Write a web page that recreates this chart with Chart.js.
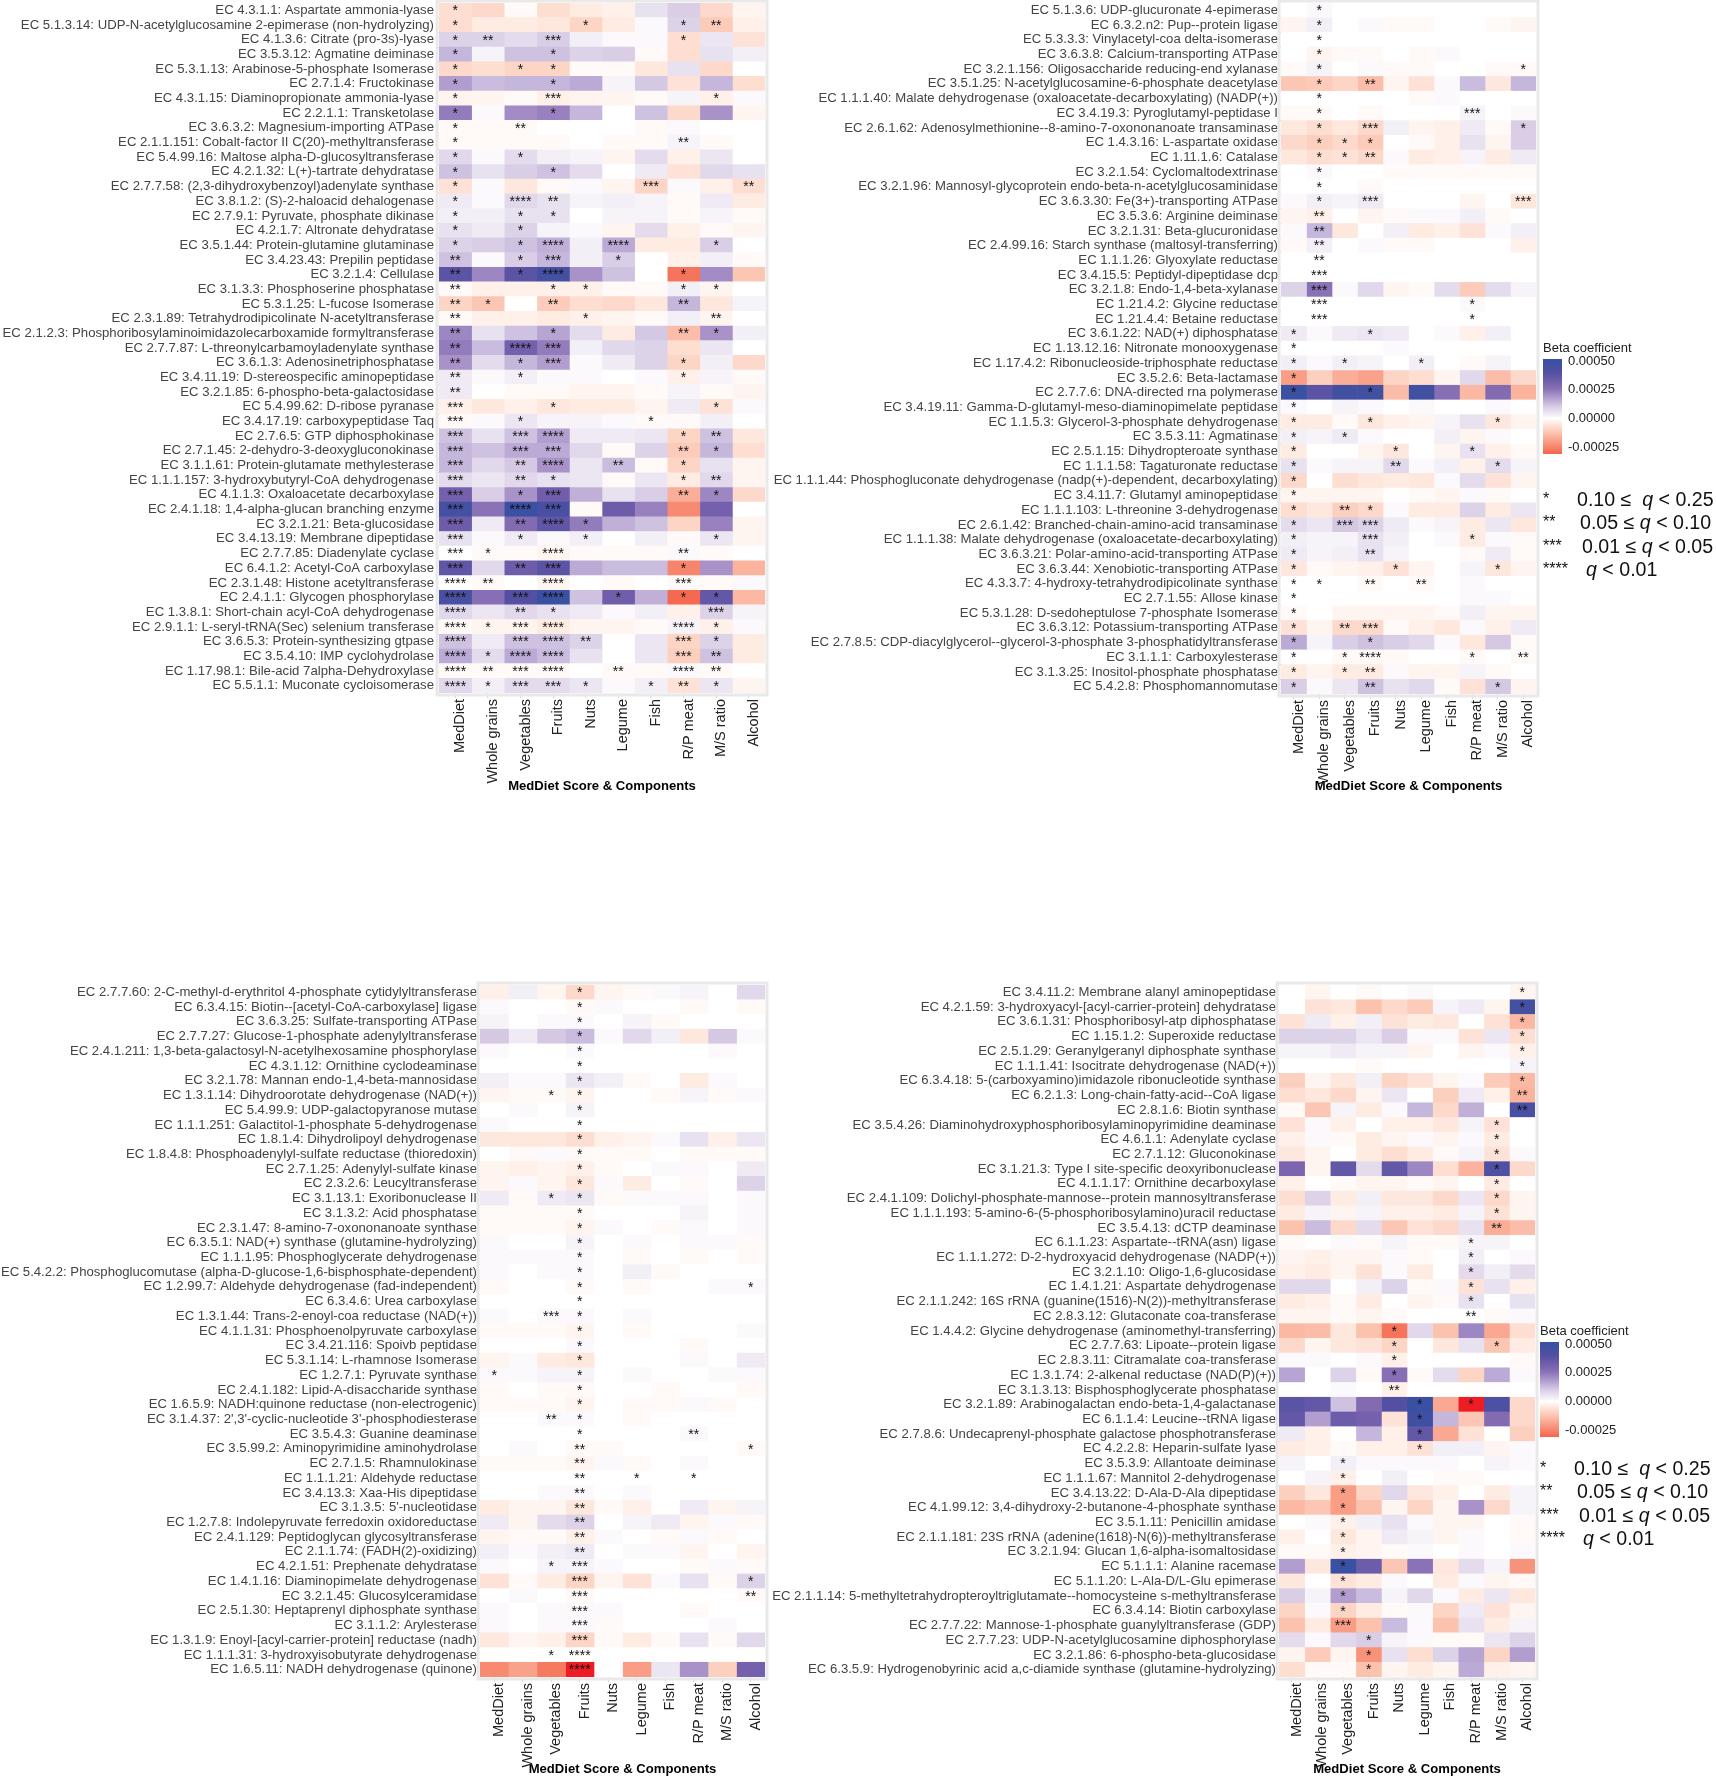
<!DOCTYPE html>
<html>
<head>
<meta charset="utf-8">
<title>MedDiet heatmaps</title>
<script src="https://cdn.jsdelivr.net/npm/chart.js@4"></script>
<style>
  html, body { margin: 0; padding: 0; background: #fff; }
  body { position: relative; width: 1716px; height: 1777px; overflow: hidden; font-family: "Liberation Sans", Arial, sans-serif; }
  canvas { position: absolute; }
  .legend-title { position: absolute; font-size: 13px; color: #222; white-space: nowrap; }
  .q-star { position: absolute; font-size: 16px; color: #111; white-space: nowrap; }
  .q-text { position: absolute; font-size: 19.6px; color: #111; white-space: nowrap; }
</style>
</head>
<body>
<script>
// x axis categories, same for all four panels
const components = ['MedDiet', 'Whole grains', 'Vegetables', 'Fruits', 'Nuts', 'Legume', 'Fish', 'R/P meat', 'M/S ratio', 'Alcohol'];

// Panel A (top left). Beta values are in units of 0.00001, stars are the q level
const labelsA = [
  'EC 4.3.1.1: Aspartate ammonia-lyase',
  'EC 5.1.3.14: UDP-N-acetylglucosamine 2-epimerase (non-hydrolyzing)',
  'EC 4.1.3.6: Citrate (pro-3s)-lyase',
  'EC 3.5.3.12: Agmatine deiminase',
  'EC 5.3.1.13: Arabinose-5-phosphate Isomerase',
  'EC 2.7.1.4: Fructokinase',
  'EC 4.3.1.15: Diaminopropionate ammonia-lyase',
  'EC 2.2.1.1: Transketolase',
  'EC 3.6.3.2: Magnesium-importing ATPase',
  'EC 2.1.1.151: Cobalt-factor II C(20)-methyltransferase',
  'EC 5.4.99.16: Maltose alpha-D-glucosyltransferase',
  'EC 4.2.1.32: L(+)-tartrate dehydratase',
  'EC 2.7.7.58: (2,3-dihydroxybenzoyl)adenylate synthase',
  'EC 3.8.1.2: (S)-2-haloacid dehalogenase',
  'EC 2.7.9.1: Pyruvate, phosphate dikinase',
  'EC 4.2.1.7: Altronate dehydratase',
  'EC 3.5.1.44: Protein-glutamine glutaminase',
  'EC 3.4.23.43: Prepilin peptidase',
  'EC 3.2.1.4: Cellulase',
  'EC 3.1.3.3: Phosphoserine phosphatase',
  'EC 5.3.1.25: L-fucose Isomerase',
  'EC 2.3.1.89: Tetrahydrodipicolinate N-acetyltransferase',
  'EC 2.1.2.3: Phosphoribosylaminoimidazolecarboxamide formyltransferase',
  'EC 2.7.7.87: L-threonylcarbamoyladenylate synthase',
  'EC 3.6.1.3: Adenosinetriphosphatase',
  'EC 3.4.11.19: D-stereospecific aminopeptidase',
  'EC 3.2.1.85: 6-phospho-beta-galactosidase',
  'EC 5.4.99.62: D-ribose pyranase',
  'EC 3.4.17.19: carboxypeptidase Taq',
  'EC 2.7.6.5: GTP diphosphokinase',
  'EC 2.7.1.45: 2-dehydro-3-deoxygluconokinase',
  'EC 3.1.1.61: Protein-glutamate methylesterase',
  'EC 1.1.1.157: 3-hydroxybutyryl-CoA dehydrogenase',
  'EC 4.1.1.3: Oxaloacetate decarboxylase',
  'EC 2.4.1.18: 1,4-alpha-glucan branching enzyme',
  'EC 3.2.1.21: Beta-glucosidase',
  'EC 3.4.13.19: Membrane dipeptidase',
  'EC 2.7.7.85: Diadenylate cyclase',
  'EC 6.4.1.2: Acetyl-CoA carboxylase',
  'EC 2.3.1.48: Histone acetyltransferase',
  'EC 2.4.1.1: Glycogen phosphorylase',
  'EC 1.3.8.1: Short-chain acyl-CoA dehydrogenase',
  'EC 2.9.1.1: L-seryl-tRNA(Sec) selenium transferase',
  'EC 3.6.5.3: Protein-synthesizing gtpase',
  'EC 3.5.4.10: IMP cyclohydrolase',
  'EC 1.17.98.1: Bile-acid 7alpha-Dehydroxylase',
  'EC 5.5.1.1: Muconate cycloisomerase'
];
const betaA = [
  [-7,-8,-1,-7,-4,-3,6,10,-8,-2],
  [-7,-4,-4,-5,-9,-4,1,9,-11,-3],
  [9,9,7,10,3,1,1,-7,5,-6],
  [14,2,12,12,9,10,-1,-7,6,3],
  [-8,-7,-9,-9,-1,-1,-5,6,-8,0],
  [18,13,14,14,16,2,11,-6,14,-7],
  [-2,-2,-1,-3,-2,-2,-1,2,-3,1],
  [24,1,21,23,14,0,12,-8,20,-2],
  [-1,-1,-1,0,0,0,-1,1,0,0],
  [-1,-1,-1,-1,0,-1,-1,2,-1,0],
  [8,1,7,3,2,-2,7,-3,5,0],
  [12,6,10,12,7,0,4,-6,8,6],
  [-6,1,-5,-1,1,-2,-9,1,-3,-7],
  [4,1,8,6,2,3,2,-1,4,-4],
  [3,3,6,6,0,2,2,-1,2,-1],
  [6,4,9,2,1,-2,7,-3,-1,-2],
  [9,10,12,15,3,16,-4,-4,10,0],
  [12,1,10,14,3,10,0,-3,3,-1],
  [38,22,38,46,20,12,0,-28,21,-12],
  [-1,-3,-3,-3,-3,-1,-1,3,-2,0],
  [-9,-12,0,-11,-7,-8,-5,14,-5,2],
  [-1,-3,-3,-4,-3,-2,-1,3,-2,0],
  [22,6,12,17,7,-4,11,-14,20,3],
  [24,13,32,24,3,8,9,-7,5,0],
  [20,7,14,18,1,4,9,-9,3,-8],
  [4,1,3,1,1,0,1,-3,2,-1],
  [4,0,-1,-1,-2,-2,-1,2,-1,-2],
  [-3,-5,-3,-5,-4,-4,-2,4,-6,1],
  [-1,1,5,2,2,1,-1,-1,3,0],
  [12,6,12,18,4,4,5,-9,12,-5],
  [14,12,16,16,8,-1,9,-11,14,-7],
  [14,8,11,20,5,13,-1,-9,6,-2],
  [7,5,8,6,5,-1,5,-4,8,-2],
  [32,10,20,33,15,6,10,-17,22,-8],
  [46,26,52,44,-1,34,23,-24,32,0],
  [34,4,28,37,24,15,12,-9,23,-2],
  [6,1,4,1,3,0,3,-1,5,-2],
  [0,-1,-1,-2,-1,-1,-1,1,-1,0],
  [37,8,34,38,16,13,13,-25,20,-16],
  [0,-1,0,-2,0,-1,0,-1,-1,1],
  [44,27,40,50,12,33,15,-30,36,-15],
  [8,5,8,6,4,1,3,-3,9,2],
  [-1,-2,-2,-4,-2,-2,-1,2,-3,1],
  [12,4,12,12,9,0,5,-9,9,-4],
  [16,7,16,13,6,0,5,-10,12,-4],
  [-1,-1,-1,-1,0,-1,-1,1,-1,0],
  [8,3,7,7,5,1,3,-6,5,-2]
];
const starsA = [
  [1,0,0,0,0,0,0,0,0,0],
  [1,0,0,0,1,0,0,1,2,0],
  [1,2,0,3,0,0,0,1,0,0],
  [1,0,0,1,0,0,0,0,0,0],
  [1,0,1,1,0,0,0,0,0,0],
  [1,0,0,1,0,0,0,0,0,0],
  [1,0,0,3,0,0,0,0,1,0],
  [1,0,0,1,0,0,0,0,0,0],
  [1,0,2,0,0,0,0,0,0,0],
  [1,0,0,0,0,0,0,2,0,0],
  [1,0,1,0,0,0,0,0,0,0],
  [1,0,0,1,0,0,0,0,0,0],
  [1,0,0,0,0,0,3,0,0,2],
  [1,0,4,2,0,0,0,0,0,0],
  [1,0,1,1,0,0,0,0,0,0],
  [1,0,1,0,0,0,0,0,0,0],
  [1,0,1,4,0,4,0,0,1,0],
  [2,0,1,3,0,1,0,0,0,0],
  [2,0,1,4,0,0,0,1,0,0],
  [2,0,0,1,1,0,0,1,1,0],
  [2,1,0,2,0,0,0,2,0,0],
  [2,0,0,0,1,0,0,0,2,0],
  [2,0,0,1,0,0,0,2,1,0],
  [2,0,4,3,0,0,0,0,0,0],
  [2,0,1,3,0,0,0,1,0,0],
  [2,0,1,0,0,0,0,1,0,0],
  [2,0,0,0,0,0,0,0,0,0],
  [3,0,0,1,0,0,0,0,1,0],
  [3,0,1,0,0,0,1,0,0,0],
  [3,0,3,4,0,0,0,1,2,0],
  [3,0,3,3,0,0,0,2,1,0],
  [3,0,2,4,0,2,0,1,0,0],
  [3,0,2,1,0,0,0,1,2,0],
  [3,0,1,3,0,0,0,2,1,0],
  [3,0,4,3,0,0,0,0,0,0],
  [3,0,2,4,1,0,0,0,0,0],
  [3,0,1,0,1,0,0,0,1,0],
  [3,1,0,4,0,0,0,2,0,0],
  [3,0,2,3,0,0,0,1,0,0],
  [4,2,0,4,0,0,0,3,0,0],
  [4,0,3,4,0,1,0,1,1,0],
  [4,0,2,1,0,0,0,0,3,0],
  [4,1,3,4,0,0,0,4,1,0],
  [4,0,3,4,2,0,0,3,1,0],
  [4,1,4,4,0,0,0,3,2,0],
  [4,2,3,4,0,2,0,4,2,0],
  [4,1,3,3,1,0,1,2,1,0]
];

// Panel B (top right)
const labelsB = [
  'EC 5.1.3.6: UDP-glucuronate 4-epimerase',
  'EC 6.3.2.n2: Pup--protein ligase',
  'EC 5.3.3.3: Vinylacetyl-coa delta-isomerase',
  'EC 3.6.3.8: Calcium-transporting ATPase',
  'EC 3.2.1.156: Oligosaccharide reducing-end xylanase',
  'EC 3.5.1.25: N-acetylglucosamine-6-phosphate deacetylase',
  'EC 1.1.1.40: Malate dehydrogenase (oxaloacetate-decarboxylating) (NADP(+))',
  'EC 3.4.19.3: Pyroglutamyl-peptidase I',
  'EC 2.6.1.62: Adenosylmethionine--8-amino-7-oxononanoate transaminase',
  'EC 1.4.3.16: L-aspartate oxidase',
  'EC 1.11.1.6: Catalase',
  'EC 3.2.1.54: Cyclomaltodextrinase',
  'EC 3.2.1.96: Mannosyl-glycoprotein endo-beta-n-acetylglucosaminidase',
  'EC 3.6.3.30: Fe(3+)-transporting ATPase',
  'EC 3.5.3.6: Arginine deiminase',
  'EC 3.2.1.31: Beta-glucuronidase',
  'EC 2.4.99.16: Starch synthase (maltosyl-transferring)',
  'EC 1.1.1.26: Glyoxylate reductase',
  'EC 3.4.15.5: Peptidyl-dipeptidase dcp',
  'EC 3.2.1.8: Endo-1,4-beta-xylanase',
  'EC 1.21.4.2: Glycine reductase',
  'EC 1.21.4.4: Betaine reductase',
  'EC 3.6.1.22: NAD(+) diphosphatase',
  'EC 1.13.12.16: Nitronate monooxygenase',
  'EC 1.17.4.2: Ribonucleoside-triphosphate reductase',
  'EC 3.5.2.6: Beta-lactamase',
  'EC 2.7.7.6: DNA-directed rna polymerase',
  'EC 3.4.19.11: Gamma-D-glutamyl-meso-diaminopimelate peptidase',
  'EC 1.1.5.3: Glycerol-3-phosphate dehydrogenase',
  'EC 3.5.3.11: Agmatinase',
  'EC 2.5.1.15: Dihydropteroate synthase',
  'EC 1.1.1.58: Tagaturonate reductase',
  'EC 1.1.1.44: Phosphogluconate dehydrogenase (nadp(+)-dependent, decarboxylating)',
  'EC 3.4.11.7: Glutamyl aminopeptidase',
  'EC 1.1.1.103: L-threonine 3-dehydrogenase',
  'EC 2.6.1.42: Branched-chain-amino-acid transaminase',
  'EC 1.1.1.38: Malate dehydrogenase (oxaloacetate-decarboxylating)',
  'EC 3.6.3.21: Polar-amino-acid-transporting ATPase',
  'EC 3.6.3.44: Xenobiotic-transporting ATPase',
  'EC 4.3.3.7: 4-hydroxy-tetrahydrodipicolinate synthase',
  'EC 2.7.1.55: Allose kinase',
  'EC 5.3.1.28: D-sedoheptulose 7-phosphate Isomerase',
  'EC 3.6.3.12: Potassium-transporting ATPase',
  'EC 2.7.8.5: CDP-diacylglycerol--glycerol-3-phosphate 3-phosphatidyltransferase',
  'EC 3.1.1.1: Carboxylesterase',
  'EC 3.1.3.25: Inositol-phosphate phosphatase',
  'EC 5.4.2.8: Phosphomannomutase'
];
const betaB = [
  [0,1,0,0,0,0,0,0,0,0],
  [-2,3,0,1,-1,-1,0,0,-1,-2],
  [0,0,0,0,0,0,0,0,0,0],
  [0,-2,-1,-1,0,-1,1,0,0,0],
  [-1,2,0,1,-1,-1,0,0,-1,-1],
  [-12,-11,-9,-14,-2,-6,1,13,-5,14],
  [0,0,0,0,0,-1,1,0,0,0],
  [-1,-1,0,-1,0,0,0,2,0,1],
  [-5,-7,-5,-8,3,-2,-3,4,-1,10],
  [-8,-10,-8,-11,0,-1,-3,6,-2,10],
  [-5,-7,-6,-8,1,-4,-3,2,-4,4],
  [0,1,0,0,-1,-1,-1,-1,-1,-1],
  [0,0,0,-1,0,0,0,0,0,0],
  [1,3,2,4,0,0,0,-2,0,-5],
  [-2,-3,0,-2,-1,1,1,3,-1,0],
  [1,14,-5,0,3,-4,-3,-6,1,3],
  [-1,3,0,1,-1,-1,0,0,0,-3],
  [0,0,0,0,0,0,0,0,0,0],
  [0,0,0,0,0,0,0,0,0,0],
  [9,26,1,8,-2,-1,7,-11,7,2],
  [0,0,0,0,0,0,0,1,0,0],
  [0,0,0,0,0,0,0,0,0,0],
  [4,1,4,5,4,0,1,-3,3,0],
  [0,0,0,0,1,0,0,0,0,0],
  [3,1,3,2,0,3,0,-1,2,0],
  [-20,-10,-17,-19,-9,-7,-2,8,-14,-8],
  [50,38,47,47,-14,47,27,-15,28,-16],
  [1,0,2,1,0,1,0,0,1,0],
  [-4,-4,-1,-5,-3,-2,2,6,-5,-2],
  [3,2,4,1,0,0,3,-2,1,0],
  [-4,0,0,-2,-5,0,-2,6,-3,-1],
  [6,1,2,2,8,1,3,-3,7,2],
  [-8,0,-7,-5,-4,-5,1,7,-6,-2],
  [-2,-2,-2,-2,0,-1,-2,1,-1,0],
  [-7,-5,-10,-8,1,-4,-4,9,-4,5],
  [7,5,11,9,4,1,2,-4,5,-5],
  [3,2,2,6,3,0,1,-4,1,-1],
  [4,2,3,6,2,0,0,-1,4,-1],
  [-5,-1,-2,-3,-6,-2,0,2,-5,-2],
  [0,0,0,-1,0,-1,0,1,0,0],
  [0,0,0,0,0,0,0,1,1,0],
  [-1,0,-2,-2,-2,-2,-1,3,-2,-2],
  [-6,-2,-8,-8,-1,-3,-5,1,-3,4],
  [16,2,10,12,10,8,1,-5,11,-1],
  [0,0,-1,-1,-1,0,0,-1,0,-1],
  [-4,-2,-4,-4,1,-2,-2,2,-1,0],
  [10,1,5,12,6,8,-1,-6,11,-2]
];
const starsB = [
  [0,1,0,0,0,0,0,0,0,0],
  [0,1,0,0,0,0,0,0,0,0],
  [0,1,0,0,0,0,0,0,0,0],
  [0,1,0,0,0,0,0,0,0,0],
  [0,1,0,0,0,0,0,0,0,1],
  [0,1,0,2,0,0,0,0,0,0],
  [0,1,0,0,0,0,0,0,0,0],
  [0,1,0,0,0,0,0,3,0,0],
  [0,1,0,3,0,0,0,0,0,1],
  [0,1,1,1,0,0,0,0,0,0],
  [0,1,1,2,0,0,0,0,0,0],
  [0,1,0,0,0,0,0,0,0,0],
  [0,1,0,0,0,0,0,0,0,0],
  [0,1,0,3,0,0,0,0,0,3],
  [0,2,0,0,0,0,0,0,0,0],
  [0,2,0,0,0,0,0,0,0,0],
  [0,2,0,0,0,0,0,0,0,0],
  [0,2,0,0,0,0,0,0,0,0],
  [0,3,0,0,0,0,0,0,0,0],
  [0,3,0,0,0,0,0,0,0,0],
  [0,3,0,0,0,0,0,1,0,0],
  [0,3,0,0,0,0,0,1,0,0],
  [1,0,0,1,0,0,0,0,0,0],
  [1,0,0,0,0,0,0,0,0,0],
  [1,0,1,0,0,1,0,0,0,0],
  [1,0,0,0,0,0,0,0,0,0],
  [1,0,0,1,0,0,0,0,0,0],
  [1,0,0,0,0,0,0,0,0,0],
  [1,0,0,1,0,0,0,0,1,0],
  [1,0,1,0,0,0,0,0,0,0],
  [1,0,0,0,1,0,0,1,0,0],
  [1,0,0,0,2,0,0,0,1,0],
  [1,0,0,0,0,0,0,0,0,0],
  [1,0,0,0,0,0,0,0,0,0],
  [1,0,2,1,0,0,0,0,0,0],
  [1,0,3,3,0,0,0,0,0,0],
  [1,0,0,3,0,0,0,1,0,0],
  [1,0,0,2,0,0,0,0,0,0],
  [1,0,0,0,1,0,0,0,1,0],
  [1,1,0,2,0,2,0,0,0,0],
  [1,0,0,0,0,0,0,0,0,0],
  [1,0,0,0,0,0,0,0,0,0],
  [1,0,2,3,0,0,0,0,0,0],
  [1,0,0,1,0,0,0,0,0,0],
  [1,0,1,4,0,0,0,1,0,2],
  [1,0,1,2,0,0,0,0,0,0],
  [1,0,0,2,0,0,0,0,1,0]
];

// Panel C (bottom left)
const labelsC = [
  'EC 2.7.7.60: 2-C-methyl-d-erythritol 4-phosphate cytidylyltransferase',
  'EC 6.3.4.15: Biotin--[acetyl-CoA-carboxylase] ligase',
  'EC 3.6.3.25: Sulfate-transporting ATPase',
  'EC 2.7.7.27: Glucose-1-phosphate adenylyltransferase',
  'EC 2.4.1.211: 1,3-beta-galactosyl-N-acetylhexosamine phosphorylase',
  'EC 4.3.1.12: Ornithine cyclodeaminase',
  'EC 3.2.1.78: Mannan endo-1,4-beta-mannosidase',
  'EC 1.3.1.14: Dihydroorotate dehydrogenase (NAD(+))',
  'EC 5.4.99.9: UDP-galactopyranose mutase',
  'EC 1.1.1.251: Galactitol-1-phosphate 5-dehydrogenase',
  'EC 1.8.1.4: Dihydrolipoyl dehydrogenase',
  'EC 1.8.4.8: Phosphoadenylyl-sulfate reductase (thioredoxin)',
  'EC 2.7.1.25: Adenylyl-sulfate kinase',
  'EC 2.3.2.6: Leucyltransferase',
  'EC 3.1.13.1: Exoribonuclease II',
  'EC 3.1.3.2: Acid phosphatase',
  'EC 2.3.1.47: 8-amino-7-oxononanoate synthase',
  'EC 6.3.5.1: NAD(+) synthase (glutamine-hydrolyzing)',
  'EC 1.1.1.95: Phosphoglycerate dehydrogenase',
  'EC 5.4.2.2: Phosphoglucomutase (alpha-D-glucose-1,6-bisphosphate-dependent)',
  'EC 1.2.99.7: Aldehyde dehydrogenase (fad-independent)',
  'EC 6.3.4.6: Urea carboxylase',
  'EC 1.3.1.44: Trans-2-enoyl-coa reductase (NAD(+))',
  'EC 4.1.1.31: Phosphoenolpyruvate carboxylase',
  'EC 3.4.21.116: Spoivb peptidase',
  'EC 5.3.1.14: L-rhamnose Isomerase',
  'EC 1.2.7.1: Pyruvate synthase',
  'EC 2.4.1.182: Lipid-A-disaccharide synthase',
  'EC 1.6.5.9: NADH:quinone reductase (non-electrogenic)',
  "EC 3.1.4.37: 2',3'-cyclic-nucleotide 3'-phosphodiesterase",
  'EC 3.5.4.3: Guanine deaminase',
  'EC 3.5.99.2: Aminopyrimidine aminohydrolase',
  'EC 2.7.1.5: Rhamnulokinase',
  'EC 1.1.1.21: Aldehyde reductase',
  'EC 3.4.13.3: Xaa-His dipeptidase',
  "EC 3.1.3.5: 5'-nucleotidase",
  'EC 1.2.7.8: Indolepyruvate ferredoxin oxidoreductase',
  'EC 2.4.1.129: Peptidoglycan glycosyltransferase',
  'EC 2.1.1.74: (FADH(2)-oxidizing)',
  'EC 4.2.1.51: Prephenate dehydratase',
  'EC 1.4.1.16: Diaminopimelate dehydrogenase',
  'EC 3.2.1.45: Glucosylceramidase',
  'EC 2.5.1.30: Heptaprenyl diphosphate synthase',
  'EC 3.1.1.2: Arylesterase',
  'EC 1.3.1.9: Enoyl-[acyl-carrier-protein] reductase (nadh)',
  'EC 1.1.1.31: 3-hydroxyisobutyrate dehydrogenase',
  'EC 1.6.5.11: NADH dehydrogenase (quinone)'
];
const betaC = [
  [-3,3,-2,-8,-2,-1,1,2,0,8],
  [1,0,0,-1,1,0,0,-1,0,-1],
  [2,0,1,1,0,2,-1,0,0,0],
  [11,4,11,13,1,8,3,-5,11,1],
  [1,0,0,1,0,0,0,0,1,0],
  [0,0,0,0,0,0,0,0,0,0],
  [3,1,1,5,3,-1,0,-4,1,0],
  [-2,-1,-1,-2,0,0,-1,2,-1,1],
  [0,1,0,2,0,0,0,0,0,0],
  [1,0,0,0,0,0,0,0,0,0],
  [-5,-5,-5,-7,-3,-2,1,6,-3,5],
  [0,-1,1,-1,-1,-1,0,-1,-1,-1],
  [-2,-3,-2,-3,-1,0,1,1,0,4],
  [-2,1,-2,-5,1,-4,0,-1,0,9],
  [4,-1,4,5,-1,1,1,1,0,1],
  [-1,-1,-1,-1,0,0,0,2,0,1],
  [-1,-1,-1,-2,1,0,-1,1,0,1],
  [1,0,0,2,0,1,0,1,1,-1],
  [1,1,1,1,0,-1,0,-1,0,-1],
  [1,0,1,1,0,3,-1,0,0,0],
  [-1,0,0,-1,0,-1,0,0,1,1],
  [0,0,0,0,0,0,0,0,0,0],
  [1,0,1,1,0,1,0,0,0,0],
  [-1,-1,-1,-2,0,-1,0,0,0,1],
  [0,0,0,1,0,0,0,-1,0,0],
  [-2,1,-4,-5,0,0,0,1,0,4],
  [1,1,2,2,0,1,0,0,1,1],
  [-1,0,-1,-1,0,0,-1,0,0,-1],
  [-1,-1,-1,-2,0,-1,-1,1,-1,0],
  [0,0,1,1,0,-1,0,0,0,0],
  [0,0,0,0,0,0,0,1,0,0],
  [0,1,0,-1,-1,0,0,0,0,-1],
  [-1,-1,-1,-2,1,-1,0,1,0,0],
  [0,0,0,0,0,0,0,0,0,0],
  [0,0,1,1,0,1,0,0,0,0],
  [-4,-2,-2,-5,-1,-3,0,4,-2,2],
  [4,-2,7,9,0,2,4,-2,1,-1],
  [-2,-1,-1,-3,1,0,-1,1,-1,0],
  [3,1,3,4,0,1,1,-2,0,-2],
  [1,0,2,2,1,0,0,-1,1,-1],
  [-6,-1,-4,-9,-2,-6,1,6,-1,9],
  [0,1,0,-1,0,0,0,0,0,-1],
  [1,0,1,1,1,0,0,-1,0,0],
  [1,0,1,1,-1,0,0,0,1,0],
  [-5,-2,-3,-9,-1,-4,-1,6,-1,8],
  [0,0,0,0,0,0,0,0,0,0],
  [-24,-19,-27,-50,0,-20,5,20,-10,32]
];
const starsC = [
  [0,0,0,1,0,0,0,0,0,0],
  [0,0,0,1,0,0,0,0,0,0],
  [0,0,0,1,0,0,0,0,0,0],
  [0,0,0,1,0,0,0,0,0,0],
  [0,0,0,1,0,0,0,0,0,0],
  [0,0,0,1,0,0,0,0,0,0],
  [0,0,0,1,0,0,0,0,0,0],
  [0,0,1,1,0,0,0,0,0,0],
  [0,0,0,1,0,0,0,0,0,0],
  [0,0,0,1,0,0,0,0,0,0],
  [0,0,0,1,0,0,0,0,0,0],
  [0,0,0,1,0,0,0,0,0,0],
  [0,0,0,1,0,0,0,0,0,0],
  [0,0,0,1,0,0,0,0,0,0],
  [0,0,1,1,0,0,0,0,0,0],
  [0,0,0,1,0,0,0,0,0,0],
  [0,0,0,1,0,0,0,0,0,0],
  [0,0,0,1,0,0,0,0,0,0],
  [0,0,0,1,0,0,0,0,0,0],
  [0,0,0,1,0,0,0,0,0,0],
  [0,0,0,1,0,0,0,0,0,1],
  [0,0,0,1,0,0,0,0,0,0],
  [0,0,3,1,0,0,0,0,0,0],
  [0,0,0,1,0,0,0,0,0,0],
  [0,0,0,1,0,0,0,0,0,0],
  [0,0,0,1,0,0,0,0,0,0],
  [1,0,0,1,0,0,0,0,0,0],
  [0,0,0,1,0,0,0,0,0,0],
  [0,0,0,1,0,0,0,0,0,0],
  [0,0,2,1,0,0,0,0,0,0],
  [0,0,0,1,0,0,0,2,0,0],
  [0,0,0,2,0,0,0,0,0,1],
  [0,0,0,2,0,0,0,0,0,0],
  [0,0,0,2,0,1,0,1,0,0],
  [0,0,0,2,0,0,0,0,0,0],
  [0,0,0,2,0,0,0,0,0,0],
  [0,0,0,2,0,0,0,0,0,0],
  [0,0,0,2,0,0,0,0,0,0],
  [0,0,0,2,0,0,0,0,0,0],
  [0,0,1,3,0,0,0,0,0,0],
  [0,0,0,3,0,0,0,0,0,1],
  [0,0,0,3,0,0,0,0,0,2],
  [0,0,0,3,0,0,0,0,0,0],
  [0,0,0,3,0,0,0,0,0,0],
  [0,0,0,3,0,0,0,0,0,0],
  [0,0,1,4,0,0,0,0,0,0],
  [0,0,0,4,0,0,0,0,0,0]
];

// Panel D (bottom right)
const labelsD = [
  'EC 3.4.11.2: Membrane alanyl aminopeptidase',
  'EC 4.2.1.59: 3-hydroxyacyl-[acyl-carrier-protein] dehydratase',
  'EC 3.6.1.31: Phosphoribosyl-atp diphosphatase',
  'EC 1.15.1.2: Superoxide reductase',
  'EC 2.5.1.29: Geranylgeranyl diphosphate synthase',
  'EC 1.1.1.41: Isocitrate dehydrogenase (NAD(+))',
  'EC 6.3.4.18: 5-(carboxyamino)imidazole ribonucleotide synthase',
  'EC 6.2.1.3: Long-chain-fatty-acid--CoA ligase',
  'EC 2.8.1.6: Biotin synthase',
  'EC 3.5.4.26: Diaminohydroxyphosphoribosylaminopyrimidine deaminase',
  'EC 4.6.1.1: Adenylate cyclase',
  'EC 2.7.1.12: Gluconokinase',
  'EC 3.1.21.3: Type I site-specific deoxyribonuclease',
  'EC 4.1.1.17: Ornithine decarboxylase',
  'EC 2.4.1.109: Dolichyl-phosphate-mannose--protein mannosyltransferase',
  'EC 1.1.1.193: 5-amino-6-(5-phosphoribosylamino)uracil reductase',
  'EC 3.5.4.13: dCTP deaminase',
  'EC 6.1.1.23: Aspartate--tRNA(asn) ligase',
  'EC 1.1.1.272: D-2-hydroxyacid dehydrogenase (NADP(+))',
  'EC 3.2.1.10: Oligo-1,6-glucosidase',
  'EC 1.4.1.21: Aspartate dehydrogenase',
  'EC 2.1.1.242: 16S rRNA (guanine(1516)-N(2))-methyltransferase',
  'EC 2.8.3.12: Glutaconate coa-transferase',
  'EC 1.4.4.2: Glycine dehydrogenase (aminomethyl-transferring)',
  'EC 2.7.7.63: Lipoate--protein ligase',
  'EC 2.8.3.11: Citramalate coa-transferase',
  'EC 1.3.1.74: 2-alkenal reductase (NAD(P)(+))',
  'EC 3.1.3.13: Bisphosphoglycerate phosphatase',
  'EC 3.2.1.89: Arabinogalactan endo-beta-1,4-galactanase',
  'EC 6.1.1.4: Leucine--tRNA ligase',
  'EC 2.7.8.6: Undecaprenyl-phosphate galactose phosphotransferase',
  'EC 4.2.2.8: Heparin-sulfate lyase',
  'EC 3.5.3.9: Allantoate deiminase',
  'EC 1.1.1.67: Mannitol 2-dehydrogenase',
  'EC 3.4.13.22: D-Ala-D-Ala dipeptidase',
  'EC 4.1.99.12: 3,4-dihydroxy-2-butanone-4-phosphate synthase',
  'EC 3.5.1.11: Penicillin amidase',
  'EC 2.1.1.181: 23S rRNA (adenine(1618)-N(6))-methyltransferase',
  'EC 3.2.1.94: Glucan 1,6-alpha-isomaltosidase',
  'EC 5.1.1.1: Alanine racemase',
  'EC 5.1.1.20: L-Ala-D/L-Glu epimerase',
  'EC 2.1.1.14: 5-methyltetrahydropteroyltriglutamate--homocysteine s-methyltransferase',
  'EC 6.3.4.14: Biotin carboxylase',
  'EC 2.7.7.22: Mannose-1-phosphate guanylyltransferase (GDP)',
  'EC 2.7.7.23: UDP-N-acetylglucosamine diphosphorylase',
  'EC 3.2.1.86: 6-phospho-beta-glucosidase',
  'EC 6.3.5.9: Hydrogenobyrinic acid a,c-diamide synthase (glutamine-hydrolyzing)'
];
const betaD = [
  [0,-2,0,-1,0,1,0,0,0,-2],
  [0,-6,-5,-13,-8,-11,2,4,-2,46],
  [-6,4,-3,3,-6,-4,-5,0,-6,-15],
  [9,9,9,5,10,1,1,-6,5,-7],
  [2,2,4,2,2,-2,0,-2,1,-3],
  [0,0,0,-1,0,0,0,0,0,2],
  [-10,-2,-5,3,-9,-6,-2,1,-11,-15],
  [-7,-5,-8,-2,5,0,-10,4,-3,-16],
  [-1,-12,2,-4,1,14,-8,15,0,44],
  [-6,1,-3,0,-3,-3,-5,2,-6,0],
  [-3,1,-1,-4,-2,1,-2,1,-4,0],
  [-5,-2,0,-4,-7,-4,-1,2,-6,1],
  [30,-2,36,7,36,22,-7,-16,42,-8],
  [-3,0,-1,-2,-2,-1,-2,0,-4,0],
  [-7,9,-4,3,-5,-5,-8,5,-8,-2],
  [-4,2,-2,2,-3,-3,-4,2,-6,-2],
  [-13,13,-8,7,-12,-6,-8,6,-17,-14],
  [-1,0,1,-1,2,-1,-1,2,2,0],
  [-2,-3,-2,-2,1,-1,0,3,0,1],
  [-3,-4,-2,-6,1,-4,0,7,3,7],
  [8,8,0,3,9,-1,1,-6,6,-3],
  [-4,-3,-1,-4,0,-2,-1,6,0,6],
  [-2,-2,-1,-2,-1,0,0,0,-1,1],
  [-15,-14,-5,-13,-28,8,-13,22,-18,-7],
  [-8,-2,-5,-6,-9,0,-5,6,-12,-4],
  [1,1,0,1,-3,0,0,0,0,-1],
  [17,0,9,-1,27,-1,7,-9,16,1],
  [0,0,1,0,-3,0,0,0,0,0],
  [38,36,12,28,40,50,-18,-50,42,-8],
  [36,18,34,32,-6,48,14,-12,28,-8],
  [4,-3,0,14,-3,36,-18,-6,0,-10],
  [-4,-3,-1,-3,-3,-6,3,3,-2,1],
  [2,0,3,1,1,1,1,0,2,1],
  [0,2,-3,0,3,0,-1,-1,0,0],
  [-10,-5,-20,-9,8,-5,-3,0,-4,2],
  [-15,-12,-20,-13,-2,-9,-2,20,-8,2],
  [0,1,-3,3,6,1,-2,-2,0,-1],
  [-3,0,-5,-2,4,2,-2,1,0,-1],
  [-1,-1,-3,-2,-1,1,0,1,0,1],
  [18,-5,50,34,-12,26,-5,7,2,-22],
  [-5,0,-6,-4,1,0,-4,1,-2,-1],
  [10,2,18,13,2,8,1,-4,5,-5],
  [-9,1,-9,-4,-1,1,-9,4,-6,-2],
  [-13,-4,-20,-13,13,1,-13,6,-4,2],
  [7,1,8,10,2,1,-1,-1,5,9],
  [-2,-11,-2,-22,6,-7,9,17,-9,18],
  [-7,-1,-1,-13,-2,-4,-2,16,-3,-2]
];
const starsD = [
  [0,0,0,0,0,0,0,0,0,1],
  [0,0,0,0,0,0,0,0,0,1],
  [0,0,0,0,0,0,0,0,0,1],
  [0,0,0,0,0,0,0,0,0,1],
  [0,0,0,0,0,0,0,0,0,1],
  [0,0,0,0,0,0,0,0,0,1],
  [0,0,0,0,0,0,0,0,0,1],
  [0,0,0,0,0,0,0,0,0,2],
  [0,0,0,0,0,0,0,0,0,2],
  [0,0,0,0,0,0,0,0,1,0],
  [0,0,0,0,0,0,0,0,1,0],
  [0,0,0,0,0,0,0,0,1,0],
  [0,0,0,0,0,0,0,0,1,0],
  [0,0,0,0,0,0,0,0,1,0],
  [0,0,0,0,0,0,0,0,1,0],
  [0,0,0,0,0,0,0,0,1,0],
  [0,0,0,0,0,0,0,0,2,0],
  [0,0,0,0,0,0,0,1,0,0],
  [0,0,0,0,0,0,0,1,0,0],
  [0,0,0,0,0,0,0,1,0,0],
  [0,0,0,0,0,0,0,1,0,0],
  [0,0,0,0,0,0,0,1,0,0],
  [0,0,0,0,0,0,0,2,0,0],
  [0,0,0,0,1,0,0,0,0,0],
  [0,0,0,0,1,0,0,0,1,0],
  [0,0,0,0,1,0,0,0,0,0],
  [0,0,0,0,1,0,0,0,0,0],
  [0,0,0,0,2,0,0,0,0,0],
  [0,0,0,0,0,1,0,1,0,0],
  [0,0,0,0,0,1,0,0,0,0],
  [0,0,0,0,0,1,0,0,0,0],
  [0,0,0,0,0,1,0,0,0,0],
  [0,0,1,0,0,0,0,0,0,0],
  [0,0,1,0,0,0,0,0,0,0],
  [0,0,1,0,0,0,0,0,0,0],
  [0,0,1,0,0,0,0,0,0,0],
  [0,0,1,0,0,0,0,0,0,0],
  [0,0,1,0,0,0,0,0,0,0],
  [0,0,1,0,0,0,0,0,0,0],
  [0,0,1,0,0,0,0,0,0,0],
  [0,0,1,0,0,0,0,0,0,0],
  [0,0,1,0,0,0,0,0,0,0],
  [0,0,1,0,0,0,0,0,0,0],
  [0,0,3,0,0,0,0,0,0,0],
  [0,0,0,1,0,0,0,0,0,0],
  [0,0,0,1,0,0,0,0,0,0],
  [0,0,0,1,0,0,0,0,0,0]
];

const legendTicks = [50, 25, 0, -25];

// colour ramp: beta (x 0.00001) -> colour
const ramp = [
  [-50, '#ee1c25'], [-30, '#f4694f'], [-25, '#f6856c'], [-20, '#f99d85'], [-15, '#fbb8a3'],
  [-10, '#fcd0bf'], [-5, '#fee7dd'], [-2, '#fff5f0'], [0, '#ffffff'], [2, '#f6f3f9'],
  [5, '#ece6f2'], [10, '#d9cee6'], [15, '#c0b0d8'], [20, '#a892c8'], [25, '#8d76b8'],
  [30, '#7c64ae'], [40, '#5350a3'], [50, '#3a50a2']
];

function hexToRgb(h) {
  return [1, 3, 5].map(i => parseInt(h.slice(i, i + 2), 16));
}

function betaColor(v) {
  if (v <= ramp[0][0]) return ramp[0][1];
  for (let i = 1; i < ramp.length; i++) {
    if (v <= ramp[i][0]) {
      const t = (v - ramp[i - 1][0]) / (ramp[i][0] - ramp[i - 1][0]);
      const a = hexToRgb(ramp[i - 1][1]), b = hexToRgb(ramp[i][1]);
      return 'rgb(' + a.map((c, k) => Math.round(c + (b[k] - c) * t)).join(',') + ')';
    }
  }
  return ramp[ramp.length - 1][1];
}

// grey frame round the tiles plus the significance stars
const tilePlugin = {
  id: 'tiles',
  beforeDatasetsDraw(chart) {
    const a = chart.chartArea, c = chart.ctx;
    c.save();
    c.strokeStyle = '#e9e9e9';
    c.lineWidth = 3;
    c.strokeRect(a.left - 2, a.top - 2, a.right - a.left + 4, a.bottom - a.top + 4);
    c.restore();
  },
  afterDatasetsDraw(chart, args, opts) {
    const c = chart.ctx, xs = chart.scales.x, ys = chart.scales.y;
    c.save();
    c.fillStyle = '#111';
    c.font = '14px "Liberation Sans"';
    c.textAlign = 'center';
    c.textBaseline = 'middle';
    opts.stars.forEach((row, r) => row.forEach((n, k) => {
      if (n > 0) c.fillText('*'.repeat(n), xs.getPixelForValue(k + 0.5), ys.getPixelForValue(r) + 1);
    }));
    c.restore();
  }
};

function addCanvas(box) {
  const cv = document.createElement('canvas');
  cv.width = box.w;
  cv.height = box.h;
  cv.style.left = box.x + 'px';
  cv.style.top = box.y + 'px';
  cv.style.width = box.w + 'px';
  cv.style.height = box.h + 'px';
  document.body.appendChild(cv);
  return cv;
}

function heatmap(box, labels, betas, stars) {
  new Chart(addCanvas(box), {
    type: 'bar',
    plugins: [tilePlugin],
    data: {
      labels: labels,
      datasets: components.map((name, k) => ({
        label: name,
        data: labels.map(() => 1),
        backgroundColor: betas.map(row => betaColor(row[k])),
        borderWidth: 0,
        barPercentage: 1,
        categoryPercentage: 1
      }))
    },
    options: {
      indexAxis: 'y',
      responsive: false,
      animation: false,
      devicePixelRatio: 1,
      layout: { padding: { top: box.top, right: 5 } },
      plugins: { legend: { display: false }, tooltip: { enabled: false }, tiles: { stars: stars } },
      scales: {
        x: {
          type: 'linear',
          stacked: true,
          min: 0,
          max: components.length,
          afterBuildTicks: s => { s.ticks = components.map((n, k) => ({ value: k + 0.5 })); },
          afterFit: s => { s.height = box.axis; s.paddingLeft = 0; s.paddingRight = 0; },
          grid: { drawOnChartArea: false, color: '#d5d5d5', tickLength: 5 },
          border: { display: false },
          ticks: {
            autoSkip: false,
            minRotation: 90,
            maxRotation: 90,
            padding: 1,
            labelOffset: 5,
            color: '#222',
            font: { family: 'Liberation Sans', size: 14.5 },
            callback: v => components[Math.floor(v)]
          },
          title: {
            display: true,
            text: 'MedDiet Score & Components',
            color: '#000',
            padding: { top: 0, bottom: 0 },
            font: { family: 'Liberation Sans', size: 13.1, weight: 'bold' }
          }
        },
        y: {
          type: 'category',
          stacked: true,
          // no extra room for the first and last label, the tiles start at the padding
          afterFit: s => { s.width = box.left; s.paddingTop = 0; s.paddingBottom = 0; },
          grid: { drawOnChartArea: false, color: '#d5d5d5', tickLength: 3 },
          border: { display: false },
          ticks: {
            autoSkip: false,
            padding: box.gap,
            color: '#444',
            font: { family: 'Liberation Sans', size: 13.17 }
          }
        }
      }
    }
  });
}

// colour bar with its own scale
function colourBar(box) {
  new Chart(addCanvas(box), {
    type: 'bar',
    data: {
      labels: ['beta'],
      datasets: [{
        data: [[-31, 52]],
        barPercentage: 1,
        categoryPercentage: 1,
        borderWidth: 0,
        borderSkipped: false,
        backgroundColor: ctx => {
          const a = ctx.chart.chartArea, ys = ctx.chart.scales.y;
          if (!a || !ys) return '#fff';
          const g = ctx.chart.ctx.createLinearGradient(0, a.top, 0, a.bottom);
          ramp.filter(s => s[0] >= -31).forEach(s => {
            const p = (ys.getPixelForValue(s[0]) - a.top) / (a.bottom - a.top);
            g.addColorStop(Math.min(1, Math.max(0, p)), s[1]);
          });
          return g;
        }
      }]
    },
    options: {
      responsive: false,
      animation: false,
      devicePixelRatio: 1,
      layout: { padding: { left: 8, top: 9, bottom: 6 } },
      plugins: { legend: { display: false }, tooltip: { enabled: false } },
      scales: {
        x: { display: false },
        y: {
          position: 'right',
          min: -31,
          max: 52,
          afterBuildTicks: s => { s.ticks = legendTicks.map(v => ({ value: v })); },
          afterFit: s => { s.width = box.w - 27; s.paddingTop = 0; s.paddingBottom = 0; },
          grid: { display: false, drawTicks: false },
          border: { display: false },
          ticks: {
            padding: 6,
            color: '#222',
            font: { family: 'Liberation Sans', size: 13 },
            callback: v => (v * 0.00001).toFixed(5)
          }
        }
      }
    }
  });
}

function addText(cls, html, x, y) {
  const el = document.createElement('div');
  el.className = cls;
  el.innerHTML = html;
  el.style.left = x + 'px';
  el.style.top = y + 'px';
  document.body.appendChild(el);
}

function legendBlock(dx, dyBar, dyQ) {
  colourBar({ x: 1535 + dx, y: 350 + dyBar, w: 181, h: 110 });
  addText('legend-title', 'Beta coefficient', 1543 + dx, 340 + dyBar);
  const stars = ['*', '**', '***', '****'];
  const rows = [
    ['0.10 ≤ &nbsp;<i>q</i> &lt; 0.25', 1577, 488],
    ['0.05 ≤ <i>q</i> &lt; 0.10', 1580, 511],
    ['0.01 ≤ <i>q</i> &lt; 0.05', 1582, 535],
    ['<i>q</i> &lt; 0.01', 1586, 558]
  ];
  rows.forEach((r, i) => {
    addText('q-star', stars[i], 1543 + dx, r[2] + 2 + dyQ);
    addText('q-text', r[0], r[1] + dx, r[2] + dyQ);
  });
}

heatmap({ x: 0, y: 0, w: 770, h: 794, left: 439, top: 3, axis: 101, gap: 2 }, labelsA, betaA, starsA);
heatmap({ x: 770, y: 0, w: 771, h: 794, left: 511, top: 3, axis: 100, gap: 0 }, labelsB, betaB, starsB);
heatmap({ x: 0, y: 980, w: 770, h: 797, left: 480, top: 5, axis: 100, gap: 0 }, labelsC, betaC, starsC);
heatmap({ x: 770, y: 980, w: 770, h: 797, left: 509, top: 5, axis: 100, gap: 0 }, labelsD, betaD, starsD);

legendBlock(0, 0, 0);
legendBlock(-3, 983, 969);
</script>
</body>
</html>
